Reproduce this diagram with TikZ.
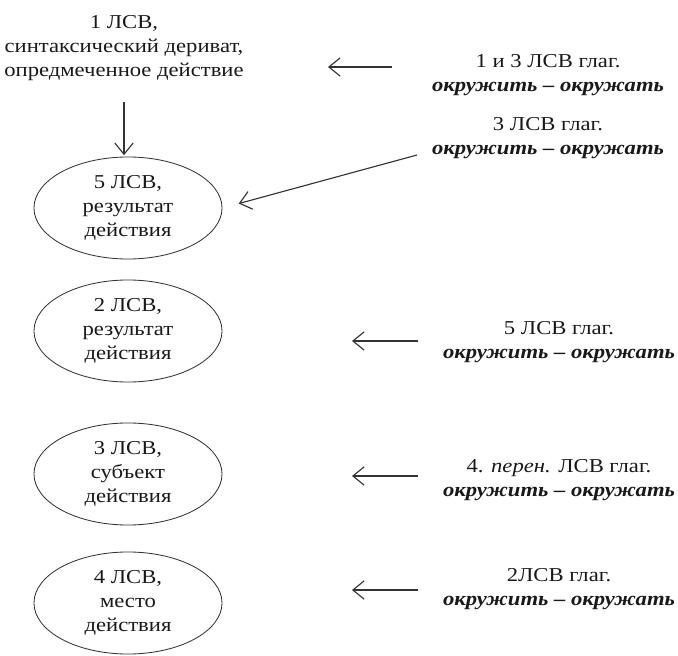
\documentclass[tikz,border=0pt]{standalone}
\usepackage{fontspec}
\setmainfont[FakeStretch=1.15]{Liberation Serif}
\usetikzlibrary{arrows.meta, shapes.geometric}

\begin{document}
\begin{tikzpicture}[x=0.025cm, y=-0.025cm,
    every node/.style = {font=\fontsize{14}{17}\selectfont, align=center, text=black!90},
    sense/.style = {draw=black!80, line width=0.6pt, ellipse, minimum width=4.7cm, minimum height=2.55cm, inner sep=0pt},
    link/.style = {draw=black!80, line width=0.8pt, -{Straight Barb[length=8pt,width=13pt]}}]
                \useasboundingbox (0,0) rectangle (678,656);
                % left column
                \node (top) at (124,48) {1 ЛСВ,\\синтаксический дериват,\\опредмеченное действие};
                \node[sense] (e5) at (128,208) {5 ЛСВ,\\результат\\действия};
                \node[sense] (e2) at (128,331) {2 ЛСВ,\\результат\\действия};
                \node[sense] (e3) at (128,474) {3 ЛСВ,\\субъект\\действия};
                \node[sense] (e4) at (128,603) {4 ЛСВ,\\место\\действия};
                % right column
                \node (g13) at (548,75) {1 и 3 ЛСВ глаг.\\\textbf{\textit{окружить – окружать}}};
                \node (g3) at (548,138) {3 ЛСВ глаг.\\\textbf{\textit{окружить – окружать}}};
                \node (g5) at (559,342) {5 ЛСВ глаг.\\\textbf{\textit{окружить – окружать}}};
                \node (g4) at (559,480) {4. \textit{перен.} ЛСВ глаг.\\\textbf{\textit{окружить – окружать}}};
                \node (g2) at (559,589) {2ЛСВ глаг.\\\textbf{\textit{окружить – окружать}}};
                % arrows
                \coordinate (a13) at (392,67);
                \coordinate (b13) at (328,67);
                \coordinate (a3) at (417,155);
                \coordinate (a5) at (418,341);
                \coordinate (b5) at (352,341);
                \coordinate (a4) at (418,476);
                \coordinate (b4) at (352,476);
                \coordinate (a2) at (418,590);
                \coordinate (b2) at (352,590);
                \draw[link, shorten <=12pt, shorten >=1pt] (top.south) -- (top.south |- e5.north);
                \draw[link] (a13) -- (b13);
                \draw[link, shorten >=12pt] (a3) -- (e5.east);
                \draw[link] (a5) -- (b5);
                \draw[link] (a4) -- (b4);
                \draw[link] (a2) -- (b2);
\end{tikzpicture}
\end{document}
